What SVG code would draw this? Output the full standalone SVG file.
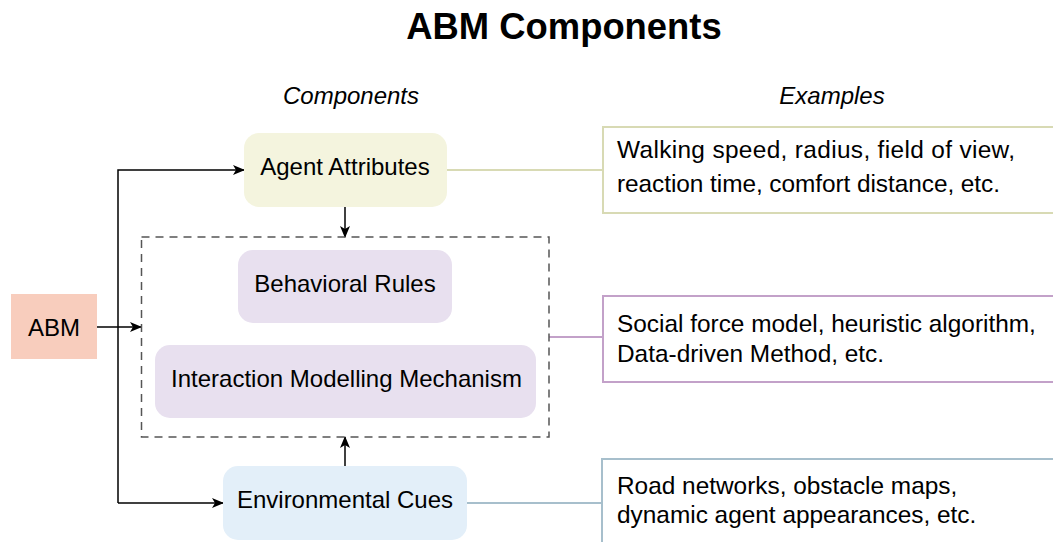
<svg xmlns="http://www.w3.org/2000/svg" width="1053" height="542" viewBox="0 0 1053 542">
<defs>
<style>
text{font-family:"Liberation Sans",Arial,Helvetica,sans-serif;fill:#000}
.node{font-size:24px;text-anchor:middle}
.ex{font-size:24.4px}
.hdr{font-size:24px;font-style:italic;text-anchor:middle}
.arrow{fill:none;stroke:#000;stroke-width:1.5}
</style>
<marker id="ah" viewBox="0 0 12 10" refX="11" refY="5" markerWidth="12" markerHeight="10" markerUnits="userSpaceOnUse" orient="auto">
<path d="M0,0 L12,5 L0,10 L3,5 z" fill="#000"/>
</marker>
</defs>
<rect width="1053" height="542" fill="#fff"/>
<text x="564" y="39" style="font-size:36.4px;font-weight:bold;text-anchor:middle">ABM Components</text>
<text class="hdr" x="351" y="104">Components</text>
<text class="hdr" x="832" y="104">Examples</text>

<g id="connectors">
<path class="arrow" d="M97,327 H141" marker-end="url(#ah)"/>
<path class="arrow" d="M118,503 V170 H244" marker-end="url(#ah)"/>
<path class="arrow" d="M118,503 H223" marker-end="url(#ah)"/>
<path class="arrow" d="M345,207 V237" marker-end="url(#ah)"/>
<path class="arrow" d="M345,466 V437" marker-end="url(#ah)"/>
<path d="M447,170 H603" stroke="#d8dab4" stroke-width="2" fill="none"/>
<path d="M549,337 H603" stroke="#c3a1c9" stroke-width="2" fill="none"/>
<path d="M467,503 H602" stroke="#a7bfcc" stroke-width="2" fill="none"/>
</g>

<g id="abm">
<rect x="11" y="294" width="86" height="65" fill="#f8cdbd"/>
<text class="node" x="54" y="336">ABM</text>
</g>

<g id="agent-attributes">
<rect x="244" y="133" width="203" height="74" rx="15" fill="#f4f4de"/>
<text class="node" x="345" y="175">Agent Attributes</text>
</g>

<g id="behavior-group">
<rect x="141.5" y="237" width="407.5" height="200" fill="none" stroke="#555" stroke-width="1.5" stroke-dasharray="8,6"/>
</g>

<g id="behavioral-rules">
<rect x="238" y="250" width="214" height="73" rx="15" fill="#e8e0ef"/>
<text class="node" x="345" y="292">Behavioral Rules</text>
</g>

<g id="interaction">
<rect x="155" y="345" width="381" height="73" rx="15" fill="#e8e0ef"/>
<text class="node" x="346.5" y="387">Interaction Modelling Mechanism</text>
</g>

<g id="environmental-cues">
<rect x="223" y="466" width="244" height="74" rx="15" fill="#e3eff9"/>
<text class="node" x="345" y="508">Environmental Cues</text>
</g>

<g id="example-1">
<rect x="603" y="127" width="460" height="86" fill="#fff" stroke="#d8dab4" stroke-width="2"/>
<text class="ex" x="617" y="158" textLength="398" lengthAdjust="spacing">Walking speed, radius, field of view,</text>
<text class="ex" x="617" y="192" textLength="383" lengthAdjust="spacing">reaction time, comfort distance, etc.</text>
</g>

<g id="example-2">
<rect x="603" y="296" width="460" height="86" fill="#fff" stroke="#c3a1c9" stroke-width="2"/>
<text class="ex" x="617" y="332">Social force model, heuristic algorithm,</text>
<text class="ex" x="617" y="362">Data-driven Method, etc.</text>
</g>

<g id="example-3">
<rect x="602" y="459" width="460" height="90" fill="#fff" stroke="#a7bfcc" stroke-width="2"/>
<text class="ex" x="617" y="494">Road networks, obstacle maps,</text>
<text class="ex" x="617" y="523">dynamic agent appearances, etc.</text>
</g>
</svg>
